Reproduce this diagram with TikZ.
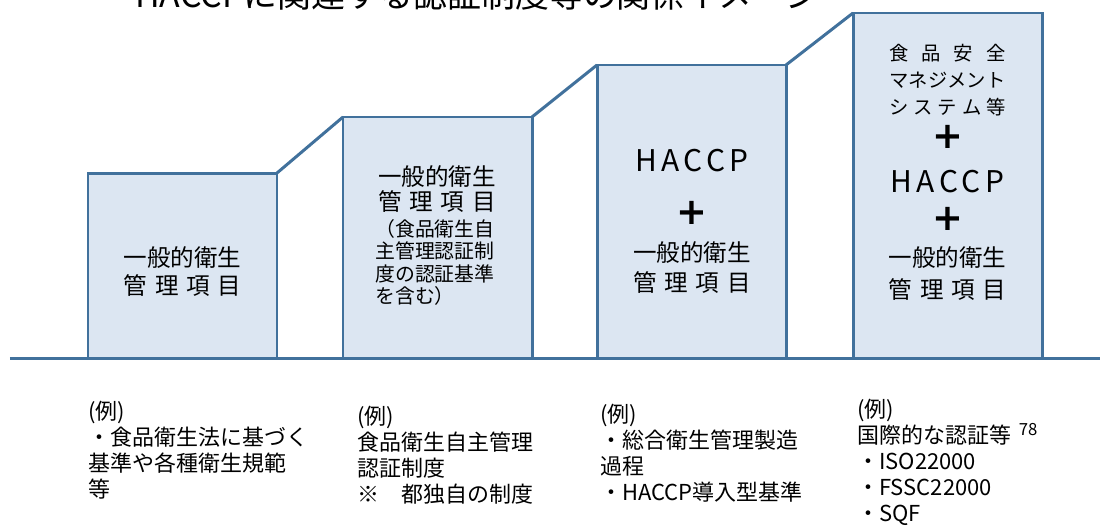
\documentclass[tikz,border=0pt]{standalone}
\usepackage{fontspec}
\setmainfont{Noto Sans CJK JP}
\newfontfamily\plusfont{DejaVu Sans}
\newfontfamily\widefont{Noto Sans CJK JP}[LetterSpace=15]
\usetikzlibrary{positioning}
\definecolor{stagefill}{HTML}{DCE6F2}
\definecolor{stageline}{HTML}{41719C}
\newcommand{\spread}[2]{\makebox[#1][s]{#2}}
\newcommand{\kanri}{\spread{5em}{管\hfill 理\hfill 項\hfill 目}}

\begin{document}
\begin{tikzpicture}[
  stagebox/.style={draw=stageline, fill=stagefill, line width=1.7pt,
    minimum width=3.78cm, inner sep=0pt, outer sep=0pt, anchor=south west},
  stagelink/.style={draw=stageline, line width=1.7pt, line join=round},
  boxtext/.style={align=center, inner sep=0pt, font=\fontsize{13.4}{16.4}\selectfont},
  plussign/.style={inner sep=0pt, font=\plusfont\bfseries\fontsize{21}{21}\selectfont},
  haccp/.style={inner sep=0pt, font=\widefont\fontsize{17}{17}\selectfont},
  example/.style={align=left, anchor=west, inner sep=0pt, font=\fontsize{12.5}{14.8}\selectfont}]
\path[use as bounding box, fill=white] (0,0) rectangle (22,-10.56);

\node[anchor=base, inner sep=0pt, font=\fontsize{19.3}{20}\selectfont] (title) at (9.55,-0.14)
  {HACCPに関連する認証制度等の関係イメージ};

\coordinate (gl) at (0.2,-7.16);
\coordinate (gr) at (22,-7.16);
\draw[stagelink] (gl) -- (gr);

\node[stagebox, minimum height=3.70cm] (lvA) at (1.76,-7.16) {};
\node[stagebox, minimum height=4.82cm] (lvB) at (6.86,-7.16) {};
\node[stagebox, minimum height=5.86cm] (lvC) at (11.94,-7.16) {};
\node[stagebox, minimum height=6.90cm] (lvD) at (17.06,-7.16) {};

\draw[stagelink] (lvA.north east) -- (lvB.north west);
\draw[stagelink] (lvB.north east) -- (lvC.north west);
\draw[stagelink] (lvC.north east) -- (lvD.north west);

\node[boxtext] (txA) at (3.65,-5.43) {一般的衛生\\\kanri};

\node[boxtext, font=\fontsize{13.4}{16}\selectfont] (txB) at (8.74,-3.78) {一般的衛生\\[-1.5pt]\kanri};
\node[boxtext, align=left, anchor=west, font=\fontsize{11.3}{12.75}\selectfont] (txBsub) at (7.5,-5.25)
  {（食品衛生自\\主管理認証制\\度の認証基準\\を含む）};

\node[haccp] (hcC) at (13.84,-3.22) {HACCP};
\node[plussign] (plC) at (13.84,-4.26) {+};
\node[boxtext, font=\fontsize{13.4}{17.6}\selectfont] (txC) at (13.84,-5.35) {一般的衛生\\\kanri};

\node[boxtext, font=\fontsize{11}{15.3}\selectfont] (fsD) at (18.95,-1.6)
  {\spread{6em}{食\hfill 品\hfill 安\hfill 全}\\マネジメント\\\spread{6em}{シ\hfill ス\hfill テ\hfill ム\hfill 等}};
\node[plussign] (plDa) at (18.95,-2.74) {+};
\node[haccp] (hcD) at (18.95,-3.64) {HACCP};
\node[plussign] (plDb) at (18.95,-4.38) {+};
\node[boxtext, font=\fontsize{13.4}{18.7}\selectfont] (txD) at (18.95,-5.47) {一般的衛生\\\kanri};

\node[example] (exA) at (1.76,-9.0)
  {(例)\\・食品衛生法に基づく\\基準や各種衛生規範\\等};
\node[example] (exB) at (7.14,-9.1)
  {(例)\\食品衛生自主管理\\認証制度\\※　都独自の制度};
\node[example] (exC) at (12.0,-9.06)
  {(例)\\・総合衛生管理製造\\過程\\・HACCP導入型基準};
\node[example] (exD) at (17.14,-9.24)
  {(例)\\国際的な認証等\hspace{0.35em}\raisebox{0.35em}{\fontsize{9.5}{9.5}\selectfont 78}\\・ISO22000\\・FSSC22000\\・SQF};
\end{tikzpicture}
\end{document}
